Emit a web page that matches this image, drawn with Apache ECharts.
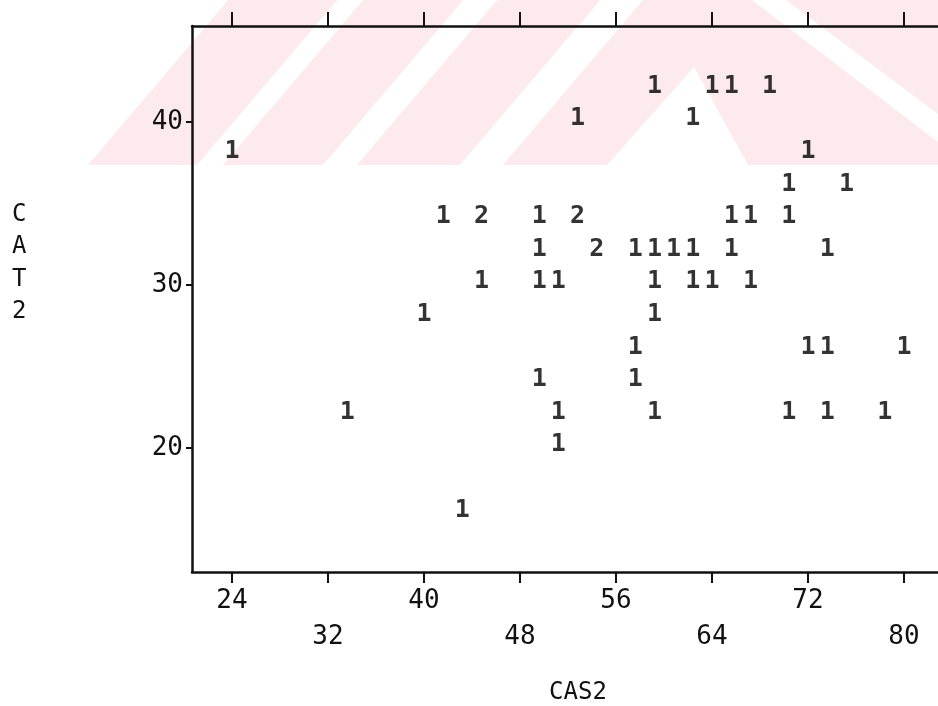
<!DOCTYPE html>
<html>
<head>
<meta charset="utf-8">
<script src="https://cdn.jsdelivr.net/npm/echarts@6/dist/echarts.min.js"></script>
<style>
html,body{margin:0;padding:0;background:#fff;}
#chart{width:938px;height:706px;}
</style>
</head>
<body>
<div id="chart"></div>
<script>
// CAS2 (x), CAT2 (y), count of observations plotted at that cell
const casValues = [
  59.2, 64, 65.6, 68.8,
  52.8, 62.4,
  24, 72,
  70.4, 75.2,
  41.6, 44.8, 49.6, 52.8, 65.6, 67.2, 70.4,
  49.6, 54.4, 57.6, 59.2, 60.8, 62.4, 65.6, 73.6,
  44.8, 49.6, 51.2, 59.2, 62.4, 64, 67.2,
  40, 59.2,
  57.6, 72, 73.6, 80,
  49.6, 57.6,
  33.6, 51.2, 59.2, 70.4, 73.6, 78.4,
  51.2,
  43.2
];
const catValues = [
  42, 42, 42, 42,
  40, 40,
  38, 38,
  36, 36,
  34, 34, 34, 34, 34, 34, 34,
  32, 32, 32, 32, 32, 32, 32, 32,
  30, 30, 30, 30, 30, 30, 30,
  28, 28,
  26, 26, 26, 26,
  24, 24,
  22, 22, 22, 22, 22, 22,
  20,
  16
];
const counts = [
  1, 1, 1, 1,
  1, 1,
  1, 1,
  1, 1,
  1, 2, 1, 2, 1, 1, 1,
  1, 2, 1, 1, 1, 1, 1, 1,
  1, 1, 1, 1, 1, 1, 1,
  1, 1,
  1, 1, 1, 1,
  1, 1,
  1, 1, 1, 1, 1, 1,
  1,
  1
];
const xTicks = [24, 32, 40, 48, 56, 64, 72, 80];
const yTicks = [20, 30, 40];
const xTitle = 'CAS2';
const yTitle = 'CAT2';

const points = casValues.map((x, i) => [x, catValues[i], counts[i]]);
const MONO = 'DejaVu Sans Mono';
const INK = '#111111';

const chart = echarts.init(document.getElementById('chart'));

const pink = '#fdeaee';
function band(x0, x1) {
  const s = 0.85 * 165;
  return { type: 'polygon', silent: true, z: -10,
    shape: { points: [[x0, 165], [x1, 165], [x1 + s, 0], [x0 + s, 0]] },
    style: { fill: pink } };
}

chart.setOption({
  animation: false,
  backgroundColor: '#ffffff',
  graphic: [
    band(88, 197),
    band(223, 323),
    band(357, 460),
    { type: 'polygon', silent: true, z: -10,
      shape: { points: [[503, 165], [643, 0], [752, 0], [938, 142], [938, 165], [748, 165], [694, 67], [607, 165]] },
      style: { fill: pink } },
    { type: 'polygon', silent: true, z: -10,
      shape: { points: [[786, 0], [938, 0], [938, 114]] },
      style: { fill: pink } },
    { type: 'text', x: 12, y: 198,
      style: { text: yTitle.split('').join('\n'), font: '24px ' + MONO, fill: INK, lineHeight: 32.6, align: 'left', verticalAlign: 'top' } },
    { type: 'text', x: 578, y: 693,
      style: { text: xTitle, font: '24px ' + MONO, fill: INK, align: 'center', verticalAlign: 'middle' } }
  ],
  grid: { left: 192, top: 26, right: 0, height: 546, containLabel: false },
  xAxis: [
    {
      type: 'value', position: 'bottom', min: 20.667, max: 82.833,
      axisLine: { show: true, onZero: false, lineStyle: { color: INK, width: 2.5 } },
      axisTick: { show: true, length: 11, customValues: xTicks, lineStyle: { color: INK, width: 2 } },
      axisLabel: {
        show: true, customValues: xTicks, margin: 11,
        fontFamily: MONO, fontSize: 26, color: INK, lineHeight: 36,
        formatter: function (v) {
          const idx = xTicks.indexOf(v);
          return idx % 2 === 1 ? '\n' + v : String(v);
        }
      },
      splitLine: { show: false }
    },
    {
      type: 'value', position: 'top', min: 20.667, max: 82.833,
      axisLine: { show: true, onZero: false, lineStyle: { color: INK, width: 2.5 } },
      axisTick: { show: true, length: 14, customValues: xTicks, lineStyle: { color: INK, width: 2 } },
      axisLabel: { show: false },
      splitLine: { show: false }
    }
  ],
  yAxis: {
    type: 'value', min: 12.39, max: 45.89,
    axisLine: { show: true, onZero: false, lineStyle: { color: INK, width: 2.5 } },
    axisTick: { show: true, length: 6, customValues: yTicks, lineStyle: { color: INK, width: 2 } },
    axisLabel: { show: true, customValues: yTicks, margin: 9, fontFamily: MONO, fontSize: 26, color: INK },
    splitLine: { show: false }
  },
  series: [{
    type: 'scatter',
    xAxisIndex: 0,
    data: points,
    symbolSize: 1,
    itemStyle: { color: 'rgba(0,0,0,0)' },
    label: {
      show: true, position: 'inside', offset: [0, -3],
      formatter: p => String(p.value[2]),
      fontFamily: MONO, fontSize: 25, fontWeight: 'bold', color: '#000'
    },
    emphasis: { disabled: true }
  }]
});
</script>
</body>
</html>
